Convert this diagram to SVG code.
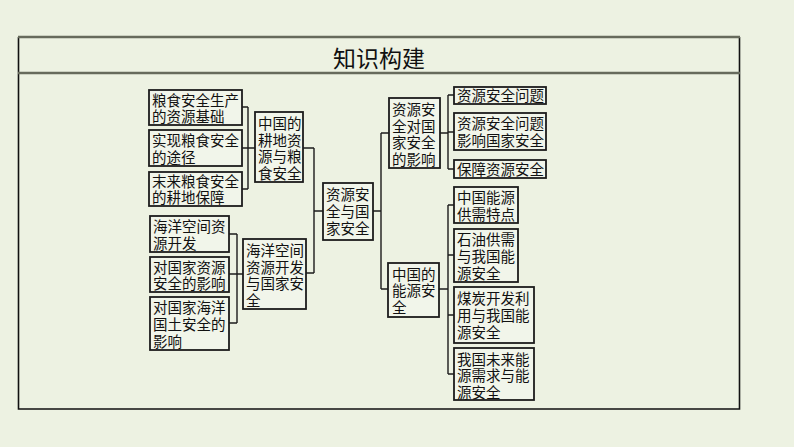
<svg xmlns="http://www.w3.org/2000/svg" width="794" height="447" viewBox="0 0 794 447">
<style>
.bx{fill:#f1f5ea;stroke:#1c1c1c;stroke-width:1.8}
.t{font-family:"Noto Sans CJK SC","Noto Sans CJK TC",sans-serif;font-size:14.5px;fill:#111}
.c{fill:none;stroke:#1c1c1c;stroke-width:1.4}
</style>
<rect x="0" y="0" width="794" height="447" fill="#edf2e2"/>
<g id="frame">
<path d="M18.5 37 V409 H739.5 V37" fill="none" stroke="#111" stroke-width="1.6"/>
<line x1="18" y1="37" x2="740" y2="37" stroke="#676b5c" stroke-width="2.6"/>
<line x1="18" y1="73" x2="740" y2="73" stroke="#676b5c" stroke-width="2.6"/>
<text x="379" y="67" text-anchor="middle" style="font-family:'Noto Sans CJK SC',sans-serif;font-size:23px;fill:#111">知识构建</text>
</g>
<g id="connectors" class="c">
<path d="M242 107 H248 M242 148 H248 M242 189 H248 M248 107 V189 M248 148 H255"/>
<path d="M229 234 H237 M229 274 H237 M229 323 H237 M237 234 V323 M237 274 H243"/>
<path d="M303 148 H314 M306 273 H314 M314 148 V273 M314 211 H323"/>
<path d="M373 211 H381 M381 133 V289 M381 133 H389 M381 289 H388"/>
<path d="M440 133 H448 M448 95 V169 M448 95 H454 M448 132 H454 M448 169 H454"/>
<path d="M439 289 H448 M448 205 V374 M448 205 H454 M448 255 H454 M448 315 H454 M448 374 H454"/>
</g>
<g id="n1"><rect class="bx" x="149" y="90" width="93" height="35"/><text class="t" x="152" y="105.5">粮食安全生产</text><text class="t" x="152" y="122">的资源基础</text></g>
<g id="n2"><rect class="bx" x="149" y="130" width="93" height="36"/><text class="t" x="152" y="145.5">实现粮食安全</text><text class="t" x="152" y="162.5">的途径</text></g>
<g id="n3"><rect class="bx" x="149" y="172" width="93" height="34"/><text class="t" x="152" y="187">末来粮食安全</text><text class="t" x="152" y="203">的耕地保障</text></g>
<g id="n4"><rect class="bx" x="255" y="112" width="48" height="70"/><text class="t" x="258" y="129">中国的</text><text class="t" x="258" y="145.5">耕地资</text><text class="t" x="258" y="162">源与粮</text><text class="t" x="258" y="178.5">食安全</text></g>
<g id="n5"><rect class="bx" x="150" y="216" width="79" height="36"/><text class="t" x="153" y="232">海洋空间资</text><text class="t" x="153" y="248.5">源开发</text></g>
<g id="n6"><rect class="bx" x="150" y="257" width="79" height="35"/><text class="t" x="153" y="272.5">对国家资源</text><text class="t" x="153" y="289">安全的影响</text></g>
<g id="n7"><rect class="bx" x="150" y="297" width="79" height="53"/><text class="t" x="153" y="313">对国家海洋</text><text class="t" x="153" y="330">国土安全的</text><text class="t" x="153" y="347">影响</text></g>
<g id="n8"><rect class="bx" x="243" y="239" width="63" height="70"/><text class="t" x="246" y="256">海洋空间</text><text class="t" x="246" y="272.5">资源开发</text><text class="t" x="246" y="289">与国家安</text><text class="t" x="246" y="305.5">全</text></g>
<g id="n9"><rect class="bx" x="323" y="183" width="50" height="57"/><text class="t" x="326" y="200">资源安</text><text class="t" x="326" y="217">全与国</text><text class="t" x="326" y="234">家安全</text></g>
<g id="n10"><rect class="bx" x="389" y="98" width="51" height="70"/><text class="t" x="392" y="115">资源安</text><text class="t" x="392" y="131.5">全对国</text><text class="t" x="392" y="148">家安全</text><text class="t" x="392" y="164.5">的影响</text></g>
<g id="n11"><rect class="bx" x="388" y="263" width="51" height="54"/><text class="t" x="392" y="279.5">中国的</text><text class="t" x="392" y="296">能源安</text><text class="t" x="392" y="312.5">全</text></g>
<g id="n12"><rect class="bx" x="454" y="87" width="92" height="17"/><text class="t" x="457" y="101">资源安全问题</text></g>
<g id="n13"><rect class="bx" x="454" y="113" width="92" height="37"/><text class="t" x="457" y="129">资源安全问题</text><text class="t" x="457" y="146">影响国家安全</text></g>
<g id="n14"><rect class="bx" x="454" y="160" width="92" height="18"/><text class="t" x="457" y="174.5">保障资源安全</text></g>
<g id="n15"><rect class="bx" x="454" y="187" width="64" height="36"/><text class="t" x="457" y="203">中国能源</text><text class="t" x="457" y="219.5">供需特点</text></g>
<g id="n16"><rect class="bx" x="454" y="229" width="64" height="53"/><text class="t" x="457" y="245">石油供需</text><text class="t" x="457" y="262">与我国能</text><text class="t" x="457" y="279">源安全</text></g>
<g id="n17"><rect class="bx" x="454" y="287" width="80" height="56"/><text class="t" x="457" y="304">煤炭开发利</text><text class="t" x="457" y="321">用与我国能</text><text class="t" x="457" y="338">源安全</text></g>
<g id="n18"><rect class="bx" x="454" y="348" width="80" height="52"/><text class="t" x="457" y="364.5">我国未来能</text><text class="t" x="457" y="381">源需求与能</text><text class="t" x="457" y="397.5">源安全</text></g>
</svg>
